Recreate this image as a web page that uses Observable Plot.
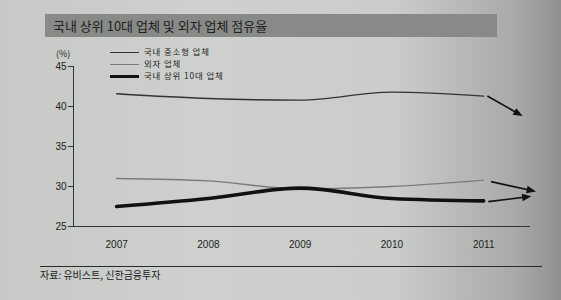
<!DOCTYPE html>
<html><head><meta charset="utf-8">
<script src="https://cdn.jsdelivr.net/npm/d3@7"></script>
<script src="https://cdn.jsdelivr.net/npm/@observablehq/plot@0.6"></script>
<style>
html,body{margin:0;padding:0;}
body{width:561px;height:300px;overflow:hidden;position:relative;
 background:linear-gradient(to right,#c6c9c5 0%,#cdd0cc 35%,#cbcdca 70%,#a9aaa8 92%,#8f908f 100%);
 font-family:"Noto Sans CJK KR","Noto Sans",sans-serif;color:#222;}
#title{position:absolute;left:45px;top:14px;width:452px;height:23px;background:#878a87;
 font-size:13px;line-height:23px;padding-left:8px;box-sizing:border-box;color:#1e1e1e;}
#unit{position:absolute;left:56px;top:47px;font-size:9px;color:#222;}
.leg{position:absolute;left:110px;font-size:8.4px;height:12px;line-height:12px;color:#222;letter-spacing:0.9px;white-space:nowrap;}
.leg span.sw{display:inline-block;width:29px;vertical-align:middle;margin-right:5px;}
#chart{position:absolute;left:0;top:40px;}
#capline{position:absolute;left:40px;top:266px;width:502px;height:1px;background:#2a2a2a;}
#caption{position:absolute;left:40px;top:267px;font-size:10px;color:#222;}
</style></head>
<body>
<div id="title">국내 상위 10대 업체 및 외자 업체 점유율</div>
<div id="unit">(%)</div>
<div id="legend"></div>
<div id="chart"></div>
<div id="capline"></div>
<div id="caption">자료: 유비스트, 신한금융투자</div>
<script>
const years = [2007, 2008, 2009, 2010, 2011];
const seriesNames = ["국내 중소형 업체", "외자 업체", "국내 상위 10대 업체"];
const smeShare = [41.6, 41.0, 40.8, 41.8, 41.3];
const foreignShare = [31.0, 30.7, 29.7, 30.0, 30.8];
const top10Share = [27.5, 28.5, 29.8, 28.5, 28.2];
const yTicks = [25, 30, 35, 40, 45];
// trend arrows after 2011 (data units)
const arrowX1 = [2011.04, 2011.08, 2011.05];
const arrowY1 = [41.3, 30.6, 28.1];
const arrowX2 = [2011.38, 2011.52, 2011.47];
const arrowY2 = [39.1, 29.5, 28.7];

const colors = ["#333333", "#7a7c7a", "#111111"];
const widths = [1.4, 1.4, 3.6];

const data = [];
[smeShare, foreignShare, top10Share].forEach((arr, i) =>
  arr.forEach((v, j) => data.push({year: years[j], value: v, series: seriesNames[i]})));
const arrows = arrowX1.map((x, i) => ({x1: x, y1: arrowY1[i], x2: arrowX2[i], y2: arrowY2[i]}));

// legend
const legend = document.getElementById("legend");
seriesNames.forEach((n, i) => {
  const d = document.createElement("div");
  d.className = "leg";
  d.style.top = (45 + i * 12) + "px";
  d.innerHTML = `<span class="sw" style="border-top:${widths[i] < 2 ? 1.5 : 3.5}px solid ${colors[i]}"></span>${n}`;
  legend.appendChild(d);
});

function filledArrow(color) {
  const m = d3.create("svg:marker")
    .attr("viewBox", "-5 -5 10 10").attr("markerWidth", 5.5).attr("markerHeight", 5.5)
    .attr("orient", "auto").attr("overflow", "visible");
  m.append("path").attr("d", "M-5,-4L5,0L-5,4Z").attr("fill", "#111").attr("stroke", "none");
  return m.node();
}

const x0 = 2006.53, x1 = 2011.51;
function build(customMarker) {
  return Plot.plot({
    width: 561, height: 220,
    marginLeft: 73, marginRight: 31, marginTop: 26, marginBottom: 34,
    style: {background: "transparent", fontFamily: "Liberation Sans, Arial, sans-serif", fontSize: "10px", color: "#222", overflow: "visible"},
    x: {domain: [x0, x1], axis: null},
    y: {domain: [25, 45], axis: null},
    marks: [
      Plot.axisY(yTicks, {tickSize: 5, tickPadding: 2, stroke: "#333", fill: "#222", fontSize: 10, label: null}),
      Plot.axisX(years, {tickSize: 0, tickPadding: 14, tickFormat: d => String(d), fill: "#222", fontSize: 10, label: null}),
      Plot.ruleX([x0], {y1: 25, y2: 45, stroke: "#333", strokeWidth: 1}),
      Plot.ruleY([25], {x1: x0, x2: x1, stroke: "#333", strokeWidth: 1}),
      ...seriesNames.map((n, i) => Plot.line(data.filter(d => d.series === n), {
        x: "year", y: "value", stroke: colors[i], strokeWidth: widths[i], curve: "monotone-x"
      })),
      customMarker
        ? Plot.link(arrows, {x1: "x1", y1: "y1", x2: "x2", y2: "y2", stroke: "#111", strokeWidth: 1.7, markerEnd: filledArrow})
        : Plot.arrow(arrows, {x1: "x1", y1: "y1", x2: "x2", y2: "y2", stroke: "#111", strokeWidth: 1.7, headLength: 8})
    ]
  });
}
let plot;
try { plot = build(true); } catch (e) { plot = build(false); }
document.getElementById("chart").appendChild(plot);
</script>
</body></html>
